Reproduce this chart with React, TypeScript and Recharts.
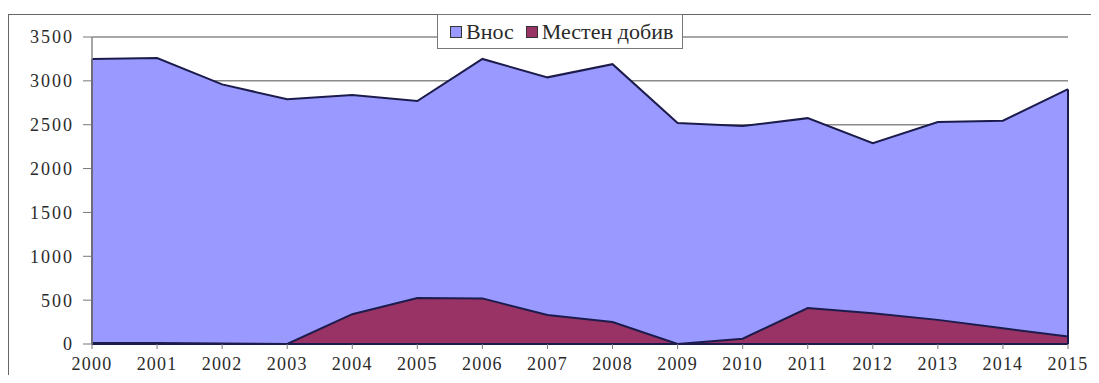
import React from 'react';
import { AreaChart, Area, XAxis, YAxis, CartesianGrid, ReferenceLine } from 'recharts';

const years = ['2000', '2001', '2002', '2003', '2004', '2005', '2006', '2007', '2008', '2009', '2010', '2011', '2012', '2013', '2014', '2015'];
const vnos = [3250, 3260, 2960, 2790, 2840, 2770, 3250, 3040, 3190, 2520, 2485, 2575, 2290, 2530, 2545, 2905];
const mesten = [10, 10, 5, 0, 340, 525, 520, 330, 250, 0, 60, 410, 350, 275, 180, 85];
const yTicks = [0, 500, 1000, 1500, 2000, 2500, 3000, 3500];
const seriesNames = ['Внос', 'Местен добив'];
const seriesColors = ['#9999FF', '#993366'];

const data = years.map((y, i) => ({ year: y, vnos: vnos[i], mesten: mesten[i] }));

const FONT = '"Liberation Serif", "Times New Roman", serif';
const EDGE = '#1c1c4c';

const LegendBox = () => (
  <div
    style={{
      position: 'absolute',
      left: 429,
      top: 6,
      boxSizing: 'border-box',
      width: 246,
      height: 35,
      border: '1px solid #777',
      background: '#fff',
      display: 'flex',
      alignItems: 'center',
      paddingLeft: 12,
      fontFamily: FONT,
      fontSize: 22,
      color: '#2a2a2a',
      whiteSpace: 'nowrap',
    }}
  >
    {seriesNames.map((n, i) => (
      <span key={n} style={{ display: 'flex', alignItems: 'center', marginRight: i === 0 ? 12 : 0 }}>
        <span
          style={{
            display: 'inline-block',
            width: 10,
            height: 10,
            background: seriesColors[i],
            border: '1.5px solid #333',
            marginRight: 4,
          }}
        />
        <span>{n}</span>
      </span>
    ))}
  </div>
);

export default function App() {
  return (
    <div style={{ position: 'relative', width: 1089, height: 367, overflow: 'hidden', background: '#fff' }}>
      <div
        style={{
          position: 'absolute',
          left: 0,
          top: 6,
          width: 1089,
          height: 400,
          boxSizing: 'border-box',
          border: '1.5px solid #666',
        }}
      />
      <div style={{ position: 'absolute', left: 0, top: 0 }}>
        <AreaChart width={1089} height={367} data={data} margin={{ top: 29, right: 29, left: 0, bottom: 0 }}>
          <CartesianGrid vertical={false} stroke="#8a8a8a" strokeWidth={1.5} />
          <XAxis
            dataKey="year"
            height={31}
            interval={0}
            tickSize={5}
            tickMargin={8}
            axisLine={{ stroke: EDGE, strokeWidth: 2 }}
            tickLine={{ stroke: '#777' }}
            tick={{ fontSize: 18, fill: '#2a2a2a', fontFamily: FONT, letterSpacing: 1.2 }}
          />
          <YAxis
            width={84}
            domain={[0, 3500]}
            ticks={yTicks}
            interval={0}
            tickSize={9}
            tickMargin={9}
            axisLine={{ stroke: '#888', strokeWidth: 1.5 }}
            tickLine={{ stroke: '#777' }}
            tick={{ fontSize: 18, fill: '#2a2a2a', fontFamily: FONT, letterSpacing: 2 }}
          />
          <Area
            type="linear"
            dataKey="vnos"
            name={seriesNames[0]}
            fill={seriesColors[0]}
            fillOpacity={1}
            stroke={EDGE}
            strokeWidth={2}
            isAnimationActive={false}
            dot={false}
            activeDot={false}
          />
          <Area
            type="linear"
            dataKey="mesten"
            name={seriesNames[1]}
            fill={seriesColors[1]}
            fillOpacity={1}
            stroke={EDGE}
            strokeWidth={2}
            isAnimationActive={false}
            dot={false}
            activeDot={false}
          />
          <ReferenceLine
            segment={[
              { x: years[0], y: 0 },
              { x: years[0], y: vnos[0] },
            ]}
            stroke={EDGE}
            strokeWidth={2}
          />
          <ReferenceLine
            segment={[
              { x: years[years.length - 1], y: 0 },
              { x: years[years.length - 1], y: vnos[vnos.length - 1] },
            ]}
            stroke={EDGE}
            strokeWidth={2}
          />
        </AreaChart>
      </div>
      <LegendBox />
    </div>
  );
}
